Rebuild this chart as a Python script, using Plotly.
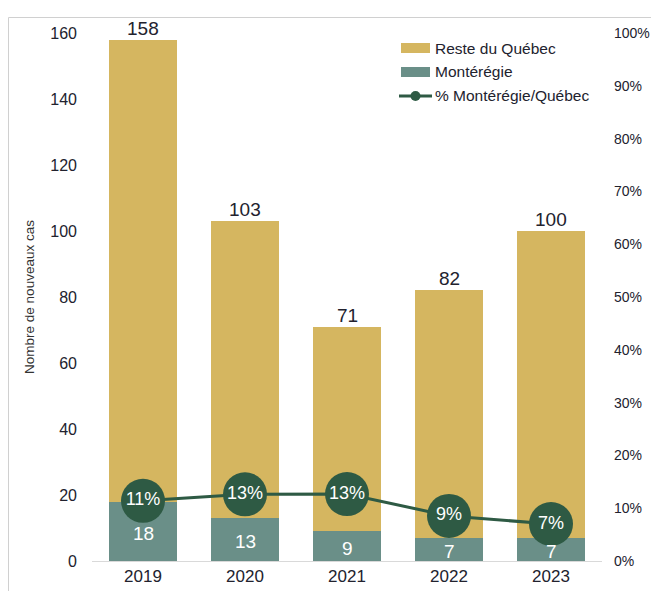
import plotly.graph_objects as go

years = ["2019", "2020", "2021", "2022", "2023"]
monteregie = [18, 13, 9, 7, 7]
totals = [158, 103, 71, 82, 100]
reste = [t - m for t, m in zip(totals, monteregie)]
pct = [m / t for m, t in zip(monteregie, totals)]
pct_labels = ["11%", "13%", "13%", "9%", "7%"]

GOLD = "#D5B660"
TEAL = "#6A8F88"
DKGREEN = "#2E5A44"
TXT = "#22222e"
FONT = "Liberation Sans"

fig = go.Figure()
fig.add_bar(x=years, y=monteregie, name="Montérégie", marker_color=TEAL,
            marker_line_width=0, width=0.67)
fig.add_bar(x=years, y=reste, name="Reste du Québec", marker_color=GOLD,
            marker_line_width=0, width=0.67)
fig.add_scatter(x=years, y=pct, name="% Montérégie/Québec", yaxis="y2",
                mode="lines+markers+text", text=pct_labels, textposition="middle center",
                textfont=dict(color="white", size=18, family=FONT),
                line=dict(color=DKGREEN, width=3),
                marker=dict(color=DKGREEN, size=44))

annotations = []
for i, (t, m) in enumerate(zip(totals, monteregie)):
    annotations.append(dict(x=i, y=t, xref="x", yref="y", text=str(t), showarrow=False,
                            yanchor="bottom", yshift=-1,
                            font=dict(size=19, color=TXT, family=FONT)))
    annotations.append(dict(x=i, y=m / 2, xref="x", yref="y", text=str(m), showarrow=False,
                            yanchor="middle", yshift=-2,
                            font=dict(size=19, color="white", family=FONT)))

# page body adds an 8px offset; figure is sized so it fits the 659x591 window
fig.update_layout(
    width=651, height=583,
    barmode="stack",
    plot_bgcolor="white", paper_bgcolor="white",
    margin=dict(l=84, r=57, t=25, b=30, autoexpand=False),
    font=dict(family=FONT, color=TXT),
    showlegend=False,
    xaxis=dict(type="category", range=[-0.5, 4.5], showline=True, linecolor="#d9d9d9",
               linewidth=1, ticks="", tickfont=dict(size=17, color=TXT), showgrid=False,
               automargin=False),
    yaxis=dict(range=[0, 160], dtick=20, showgrid=False, zeroline=False, automargin=False,
               tickfont=dict(size=16, color=TXT), ticklabelstandoff=14,
               title=dict(text="Nombre de nouveaux cas", font=dict(size=13.5, color="#333"),
                          standoff=12)),
    yaxis2=dict(range=[0, 1], dtick=0.1, tickformat=".0%", overlaying="y", side="right",
                showgrid=False, zeroline=False, tickfont=dict(size=14, color=TXT),
                ticklabelstandoff=11, automargin=False),
    annotations=annotations,
)

def px(xp):
    return (xp - 92) / 510
def py(yp):
    return (561 - yp) / 528

fig.add_shape(type="line", xref="paper", yref="paper", x0=px(8.5), x1=px(8.5),
              y0=py(600), y1=py(17.5), line=dict(color="#d0d0d0", width=1))
fig.add_shape(type="line", xref="paper", yref="paper", x0=px(8.5), x1=px(700),
              y0=py(17.5), y1=py(17.5), line=dict(color="#d0d0d0", width=1))

leg_items = [("Reste du Québec", GOLD, "bar"), ("Montérégie", TEAL, "bar"),
             ("% Montérégie/Québec", DKGREEN, "line")]
for i, (lab, col, kind) in enumerate(leg_items):
    yc = 48 + i * 24
    if kind == "bar":
        fig.add_shape(type="rect", xref="paper", yref="paper", x0=px(401), x1=px(430),
                      y0=py(yc + 5), y1=py(yc - 5), fillcolor=col, line_width=0)
    else:
        fig.add_shape(type="line", xref="paper", yref="paper", x0=px(399), x1=px(432),
                      y0=py(yc), y1=py(yc), line=dict(color=col, width=3))
        fig.add_shape(type="circle", xref="paper", yref="paper", x0=px(410.5), x1=px(420.5),
                      y0=py(yc + 5), y1=py(yc - 5), fillcolor=col, line_width=0)
    fig.add_annotation(xref="paper", yref="paper", x=px(433), y=py(yc), text=lab,
                       showarrow=False, xanchor="left", yanchor="middle",
                       font=dict(size=15.5, color=TXT, family=FONT))

fig.write_html("out.html")
